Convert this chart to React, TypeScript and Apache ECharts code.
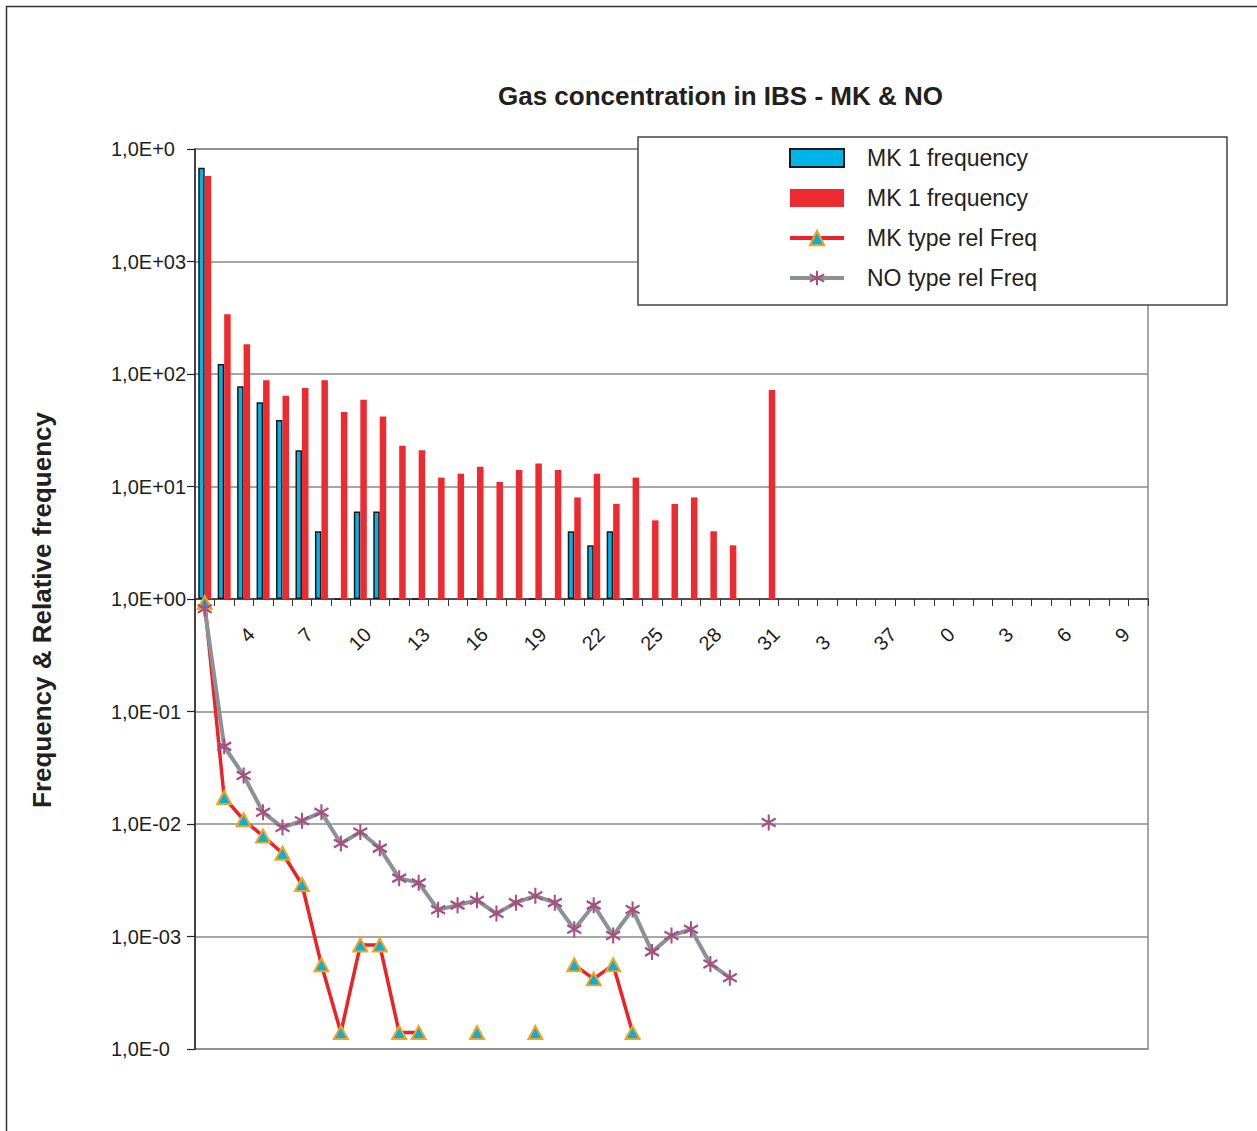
import React, { useEffect, useRef } from "react";
import * as echarts from "echarts";

const FONT = "'Liberation Sans', Arial, Helvetica, sans-serif";
const TEXT = "#231f20";

const titleText = "Gas concentration in IBS - MK & NO";
const yAxisName = "Frequency & Relative frequency";

const categories = [
  "1", "2", "3", "4", "5", "6", "7", "8", "9", "10",
  "11", "12", "13", "14", "15", "16", "17", "18", "19", "20",
  "21", "22", "23", "24", "25", "26", "27", "28", "29", "30",
  "31", "32", "33", "34", "35", "36", "37", "38", "39", "40",
  "41", "42", "43", "44", "45", "46", "47", "48", "49",
];

// Visible x tick labels (as printed in the original, some digits lost)
const xTickLabels = [
  "", "", "", "4", "", "", "7", "", "", "10",
  "", "", "13", "", "", "16", "", "", "19", "",
  "", "22", "", "", "25", "", "", "28", "", "",
  "31", "", "", "3", "", "", "37", "", "", "0",
  "", "", "3", "", "", "6", "", "", "9",
];
// label indices whose trailing digit is missing
const xLabelsLostLastDigit = [33];

// y tick labels, ascending from 1E-4 to 1E4
const yTickLabels = [
  "1,0E-0", "1,0E-03", "1,0E-02", "1,0E-01", "1,0E+00",
  "1,0E+01", "1,0E+02", "1,0E+03", "1,0E+0",
];

const seriesNames = ["MK 1 frequency", "MK 1 frequency ", "MK type rel Freq", "NO type rel Freq"];

// MK 1 frequency (blue bars)
const mkFreq = [
  6800, 123, 78, 56, 39, 21, 4, 1, 6, 6,
  1, 1, null, null, 1, null, null, 1, null, 4,
  3, 4, 1, null, null, null, null, null, null, null,
  null, null, null, null, null, null, null, null, null, null,
  null, null, null, null, null, null, null, null, null,
];

// second "MK 1 frequency" (red bars, NO type)
const noFreq = [
  5750, 340, 184, 88, 64, 75, 88, 46, 59, 42,
  23, 21, 12, 13, 15, 11, 14, 16, 14, 8,
  13, 7, 12, 5, 7, 8, 4, 3, null, 72,
  null, null, null, null, null, null, null, null, null, null,
  null, null, null, null, null, null, null, null, null,
];

// MK type rel Freq (red line, triangles)
const mkRelFreq = [
  0.93, 0.0172, 0.0109, 0.0078, 0.0055, 0.0029, 0.00056, 0.00014, 0.00084, 0.00084,
  0.00014, 0.00014, null, null, 0.00014, null, null, 0.00014, null, 0.00056,
  0.00042, 0.00056, 0.00014, null, null, null, null, null, null, null,
  null, null, null, null, null, null, null, null, null, null,
  null, null, null, null, null, null, null, null, null,
];

// NO type rel Freq (grey line, stars)
const noRelFreq = [
  0.82, 0.049, 0.027, 0.0127, 0.0093, 0.0107, 0.0127, 0.0067, 0.0085, 0.0061,
  0.0033, 0.003, 0.00173, 0.0019, 0.0021, 0.0016, 0.002, 0.0023, 0.002, 0.00116,
  0.0019, 0.00102, 0.00174, 0.00073, 0.00102, 0.00116, 0.00057, 0.00043, null, 0.0103,
  null, null, null, null, null, null, null, null, null, null,
  null, null, null, null, null, null, null, null, null,
];

const STAR = "path://M7,0 L7,16 M0,4 L14,12 M0,12 L14,4";

export default function App() {
  const ref = useRef<HTMLDivElement>(null);

  useEffect(() => {
    if (!ref.current) return;
    const chart = echarts.init(ref.current, null, { renderer: "svg" });
    const option: any = {
      animation: false,
      backgroundColor: "#ffffff",
      textStyle: { fontFamily: FONT, color: TEXT },
      title: {
        text: titleText,
        left: 498,
        top: 83,
        padding: 0,
        textStyle: { fontFamily: FONT, fontSize: 26, fontWeight: "bold", color: TEXT },
      },
      graphic: [
        {
          type: "rect",
          silent: true,
          z: 100,
          shape: { x: 6.5, y: 6.5, width: 1400, height: 1400 },
          style: { fill: "none", stroke: "#333333", lineWidth: 1.5 },
        },
      ],
      legend: {
        orient: "vertical",
        left: 638,
        top: 137,
        padding: [9, 190, 15, 150],
        itemGap: 16,
        itemWidth: 54,
        itemHeight: 18,
        backgroundColor: "#ffffff",
        borderColor: "#444444",
        borderWidth: 1.5,
        selectedMode: false,
        data: [
          { name: seriesNames[0], icon: "rect", itemStyle: { borderColor: "#1a1a1a", borderWidth: 2 } },
          { name: seriesNames[1], icon: "rect" },
          { name: seriesNames[2], lineStyle: { width: 4 } },
          { name: seriesNames[3], lineStyle: { width: 4 } },
        ],
        formatter: (name: string) => name.trim(),
        textStyle: {
          fontFamily: FONT,
          fontSize: 23,
          color: TEXT,
          lineHeight: 24,
          padding: [0, 0, 0, 18],
        },
      },
      grid: {
        left: 195,
        top: 149,
        right: 109,
        bottom: 82,
        show: true,
        borderColor: "#8a8a8a",
        borderWidth: 1.5,
        backgroundColor: "transparent",
        outerBoundsMode: "none",
      },
      xAxis: {
        type: "category",
        data: categories,
        position: "bottom",
        offset: -450,
        boundaryGap: true,
        axisLine: { onZero: false, lineStyle: { color: "#333333", width: 1.5 } },
        axisTick: { show: true, length: 7, interval: 0, lineStyle: { color: "#333333", width: 1 } },
        splitLine: { show: false },
        axisLabel: {
          interval: 0,
          rotate: 45,
          margin: 20,
          padding: [0, 17, 0, 0],
          fontFamily: FONT,
          fontSize: 20,
          color: TEXT,
          formatter: (_v: string, i: number) => {
            const t = xTickLabels[i];
            if (!t) return "";
            return xLabelsLostLastDigit.includes(i) ? `{cut|${t}}` : t;
          },
          rich: {
            cut: { padding: [0, 11, 0, 0], fontFamily: FONT, fontSize: 20, color: TEXT },
          },
        },
      },
      yAxis: {
        type: "log",
        logBase: 10,
        min: 0.0001,
        max: 10000,
        splitNumber: 8,
        name: yAxisName,
        nameLocation: "middle",
        nameRotate: 90,
        nameGap: 140,
        nameTextStyle: {
          fontFamily: FONT,
          fontSize: 26,
          fontWeight: "bold",
          color: TEXT,
          padding: [0, 22, 0, 0],
        },
        axisLine: { show: true, lineStyle: { color: "#222222", width: 1.5 } },
        axisTick: { show: true, length: 8, lineStyle: { color: "#222222", width: 1.2 } },
        splitLine: { show: true, lineStyle: { color: "#8a8a8a", width: 1.5 } },
        axisLabel: {
          align: "left",
          margin: 84,
          fontFamily: FONT,
          fontSize: 20,
          color: TEXT,
          formatter: (v: number) => {
            const idx = Math.round(Math.log10(v)) + 4;
            return yTickLabels[idx] ?? "";
          },
        },
      },
      series: [
        {
          name: seriesNames[0],
          type: "bar",
          data: mkFreq,
          barWidth: 6.5,
          barGap: "0%",
          itemStyle: { color: "#00b4e8", borderColor: "#1a1a1a", borderWidth: 1.5 },
          z: 2,
        },
        {
          name: seriesNames[1],
          type: "bar",
          data: noFreq,
          barWidth: 6.5,
          barGap: "0%",
          itemStyle: { color: "#ed2a30" },
          z: 2,
        },
        {
          name: seriesNames[2],
          type: "line",
          data: mkRelFreq,
          connectNulls: false,
          showSymbol: true,
          showAllSymbol: true,
          symbol: "triangle",
          symbolSize: [14, 13],
          lineStyle: { color: "#ec2228", width: 3.5 },
          itemStyle: { color: "#00b2e2", borderColor: "#f5a31a", borderWidth: 2 },
          z: 3,
        },
        {
          name: seriesNames[3],
          type: "line",
          data: noRelFreq,
          connectNulls: false,
          showSymbol: true,
          showAllSymbol: true,
          symbol: STAR,
          symbolSize: [14, 16],
          lineStyle: { color: "#8a9197", width: 4 },
          itemStyle: { color: "#a5507e", borderColor: "#a5507e", borderWidth: 2.2 },
          z: 4,
        },
      ],
    };
    chart.setOption(option);
    return () => chart.dispose();
  }, []);

  return (
    <div
      ref={ref}
      style={{ position: "absolute", left: 0, top: 0, width: 1257, height: 1131, background: "#ffffff" }}
    />
  );
}
